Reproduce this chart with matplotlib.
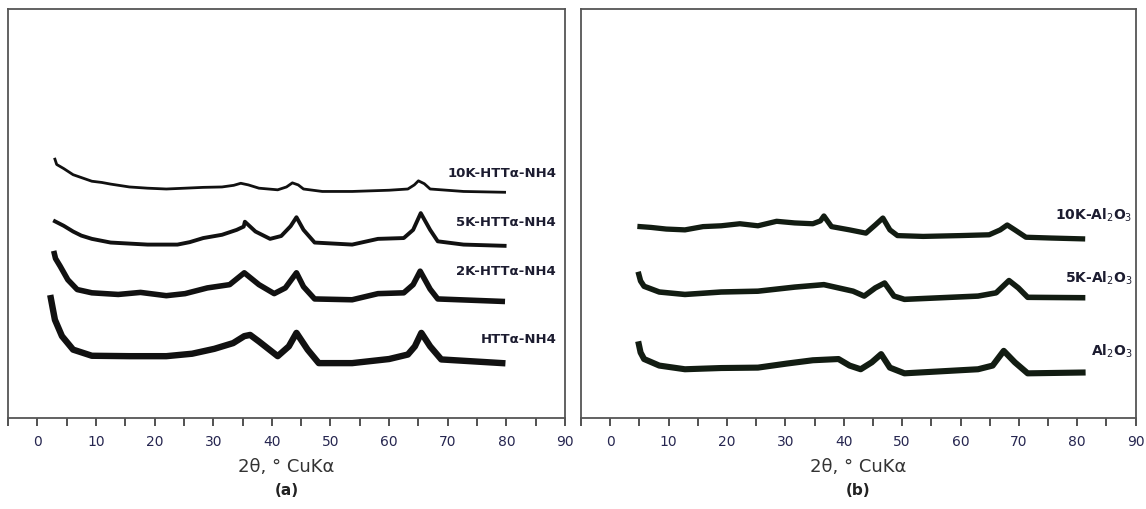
import numpy as np
import matplotlib.pyplot as plt

# ---- panel (a) data: 2theta and intensity (arbitrary units)
a_10k_x = [3.0, 3.3, 4.5, 6.1, 7.5, 9.3, 11.0, 12.5, 15.7, 18.8, 22.0, 25.2, 28.3, 31.5, 33.5, 34.7, 36.0,
           37.8, 41.0, 42.5, 43.5, 44.5, 45.4, 48.6, 53.7, 60.0, 63.2, 64.3, 65.0, 66.0, 67.0, 72.7, 79.7]
a_10k_y = [63.3, 62.0, 61.0, 59.5, 58.8, 57.9, 57.6, 57.2, 56.5, 56.2, 56.0, 56.2, 56.4, 56.5, 56.9, 57.4, 57.0,
           56.2, 55.8, 56.5, 57.5, 57.0, 56.0, 55.4, 55.4, 55.7, 56.0, 57.0, 58.0, 57.3, 56.0, 55.4, 55.2]

a_5k_x = [3.0, 4.5, 6.1, 7.5, 9.3, 12.5, 18.8, 23.9, 26.0, 28.3, 31.5, 34.0, 35.2, 35.4, 37.2, 39.7, 41.6,
          43.2, 44.2, 45.4, 47.3, 53.7, 58.1, 62.5, 64.1, 65.4, 67.0, 68.3, 72.7, 79.7]
a_5k_y = [48.1, 47.0, 45.6, 44.6, 43.8, 42.9, 42.4, 42.4, 43.0, 44.0, 44.8, 46.0, 46.8, 48.0, 45.6, 43.8, 44.5,
          46.9, 49.1, 46.0, 42.9, 42.4, 43.8, 44.0, 46.0, 50.1, 46.0, 43.2, 42.4, 42.1]

a_2k_x = [2.9, 3.1, 3.9, 5.2, 6.8, 9.3, 13.8, 17.6, 22.0, 25.2, 29.0, 32.8, 35.3, 37.8, 40.4, 42.3, 44.2,
          45.4, 47.3, 53.7, 58.1, 62.5, 64.1, 65.3, 67.0, 68.3, 79.3]
a_2k_y = [40.2, 39.0, 37.1, 33.8, 31.4, 30.6, 30.2, 30.7, 29.9, 30.4, 31.8, 32.6, 35.5, 32.6, 30.4, 31.8, 35.5,
          32.1, 29.1, 28.9, 30.4, 30.6, 32.6, 35.9, 31.5, 29.1, 28.5]

a_0k_x = [2.3, 2.6, 3.0, 4.2, 6.1, 9.3, 15.7, 22.0, 26.4, 30.2, 33.4, 35.3, 36.3, 37.8, 41.0, 42.9, 44.2,
          46.1, 48.0, 53.7, 60.0, 63.2, 64.4, 65.5, 67.0, 68.9, 79.3]
a_0k_y = [29.3, 27.0, 24.0, 20.0, 16.7, 15.2, 15.1, 15.1, 15.7, 16.9, 18.3, 20.0, 20.3, 18.7, 15.1, 17.5, 20.8,
          16.7, 13.4, 13.4, 14.4, 15.5, 17.5, 20.8, 17.5, 14.3, 13.4]

a_names = ['10K-HTTα-NH4', '5K-HTTα-NH4', '2K-HTTα-NH4', 'HTTα-NH4']
a_label_y = [59.9, 47.8, 35.9, 19.3]
a_widths = [2.0, 2.8, 4.0, 4.6]

# ---- panel (b) data
b_10k_x = [5.1, 7.0, 9.6, 12.8, 15.9, 19.0, 22.2, 25.3, 28.5, 31.6, 34.7, 36.0, 36.6, 37.9, 41.0, 43.8,
           45.4, 46.7, 47.9, 49.2, 53.6, 59.9, 64.9, 66.8, 68.0, 69.3, 71.2, 75.6, 80.9]
b_10k_y = [46.8, 46.6, 46.2, 46.0, 46.8, 47.0, 47.5, 47.0, 48.1, 47.7, 47.5, 48.2, 49.4, 46.8, 46.0, 45.2,
           47.2, 48.9, 46.0, 44.6, 44.4, 44.6, 44.8, 46.0, 47.2, 46.0, 44.2, 44.0, 43.8]

b_5k_x = [4.9, 5.2, 5.8, 8.4, 12.8, 19.0, 25.3, 31.6, 36.6, 39.1, 41.6, 43.5, 45.4, 47.0, 48.6, 50.4,
          56.7, 63.0, 66.1, 68.3, 69.9, 71.5, 80.9]
b_5k_y = [35.1, 33.5, 32.2, 30.8, 30.2, 30.8, 31.0, 32.0, 32.6, 31.8, 31.0, 29.8, 31.8, 33.0, 29.8, 29.0,
          29.4, 29.8, 30.6, 33.6, 31.8, 29.5, 29.4]

b_0k_x = [4.9, 5.2, 5.8, 8.4, 12.8, 19.0, 25.3, 30.3, 34.7, 39.1, 41.0, 42.9, 44.8, 46.4, 47.9, 50.4,
          56.7, 63.0, 65.5, 67.4, 69.3, 71.5, 80.9]
b_0k_y = [18.0, 16.0, 14.4, 12.8, 11.9, 12.2, 12.3, 13.3, 14.1, 14.4, 12.8, 11.9, 13.6, 15.6, 12.3, 10.9,
          11.4, 11.9, 12.8, 16.4, 13.6, 10.9, 11.1]

b_names = ['10K-Al$_2$O$_3$', '5K-Al$_2$O$_3$', 'Al$_2$O$_3$']
b_label_y = [49.5, 34.2, 16.3]
b_widths = [3.8, 4.0, 4.4]

tick_color = '#262650'
text_color = '#1c1c30'


def style_axes(ax, letter):
    ax.set_xlim(-5, 90)
    ax.set_ylim(0, 100)
    ax.set_yticks([])
    ax.set_xticks(np.arange(-5, 91, 5))
    ax.set_xticklabels([str(v) if v % 10 == 0 else '' for v in range(-5, 91, 5)])
    ax.tick_params(axis='x', direction='out', length=6, width=1.2, color='#333333',
                   labelsize=10, labelcolor=tick_color, pad=6)
    for s in ax.spines.values():
        s.set_color('#555555')
        s.set_linewidth(1.3)
    ax.set_xlabel('2θ, ° CuKα', fontsize=13, color='#333333', labelpad=7)
    ax.text(0.5, -0.178, letter, transform=ax.transAxes, ha='center', va='center',
            fontsize=11, fontweight='bold', color='#222222')


fig = plt.figure(figsize=(11.46, 5.09), dpi=100)
ax1 = fig.add_axes([0.007, 0.179, 0.486, 0.803])
ax2 = fig.add_axes([0.507, 0.179, 0.484, 0.803])

a_series = [(a_10k_x, a_10k_y), (a_5k_x, a_5k_y), (a_2k_x, a_2k_y), (a_0k_x, a_0k_y)]
for (x, y), name, ly, lw in zip(a_series, a_names, a_label_y, a_widths):
    ax1.plot(x, y, color='#111111', lw=lw, solid_joinstyle='round')
    ax1.text(88.5, ly, name, ha='right', va='center', fontsize=9.5, fontweight='bold', color=text_color)
style_axes(ax1, '(a)')

b_series = [(b_10k_x, b_10k_y), (b_5k_x, b_5k_y), (b_0k_x, b_0k_y)]
for (x, y), name, ly, lw in zip(b_series, b_names, b_label_y, b_widths):
    ax2.plot(x, y, color='#121c12', lw=lw, solid_joinstyle='round')
    ax2.text(89.5, ly, name, ha='right', va='center', fontsize=10, fontweight='bold', color=text_color)
style_axes(ax2, '(b)')

fig.savefig('out.png', dpi=100)
